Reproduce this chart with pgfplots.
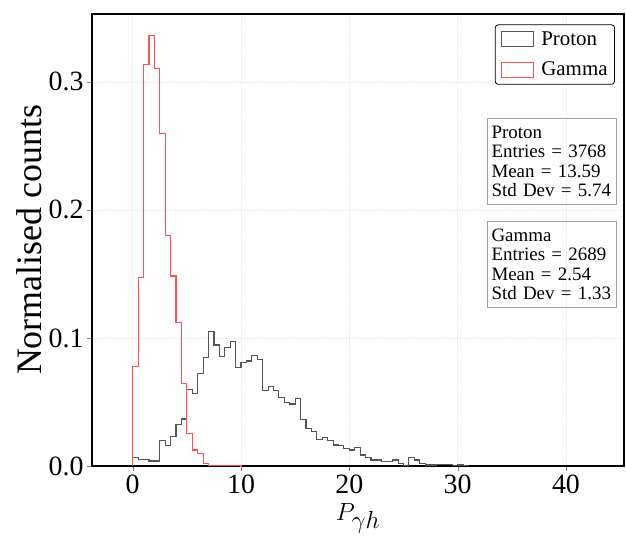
\documentclass[border=0pt]{standalone}
\usepackage{fontspec}
\setmainfont{Liberation Serif}
\usepackage{pgfplots}
\pgfplotsset{compat=1.18}
\definecolor{protc}{HTML}{555555}
\definecolor{gamc}{HTML}{FF5252}
\begin{document}
\begin{tikzpicture}
\path[use as bounding box] (-92bp,-73bp) rectangle (534bp,466bp);
\begin{axis}[
 at={(0,0)}, anchor=south west, scale only axis, width=532bp, height=452bp,
 xmin=-3.76, xmax=45.36, ymin=0, ymax=0.353,
 xtick={0,10,20,30,40}, ytick={0,0.1,0.2,0.3},
 yticklabel style={/pgf/number format/.cd, fixed, fixed zerofill, precision=1},
 /pgf/number format/assume math mode=true,
 tick label style={font=\fontsize{28}{30}\selectfont},
 xtick pos=bottom, ytick pos=left, tick align=outside,
 major tick length=5bp,
 axis line style={line width=1.2bp},
 grid=major, grid style={gray!15, densely dotted, line width=0.6bp},
 xlabel={$P_{\gamma h}$}, ylabel={Normalised counts},
 xlabel style={font=\fontsize{39}{40}\selectfont, yshift=-3bp},
 ylabel style={font=\fontsize{36}{38}\selectfont},
 legend style={at={(0.983,0.977)}, anchor=north east, rounded corners=3bp, draw=black, line width=0.8bp, font=\fontsize{21}{24}\selectfont, row sep=11bp, inner xsep=5bp, inner ysep=5bp},
 legend cell align=left,
 legend image code/.code={\draw[#1, sharp plot, sharp corners] (0bp,-7.5bp) rectangle (32bp,7.5bp); \path (-1bp,0) (37bp,0);},
]
\addplot[protc, line width=1.1bp, const plot] coordinates {
(0,0) (0,0.0065) (0.5,0.0052) (1,0.0052) (1.5,0.0039) (2,0.0039) (2.5,0.0198) (3,0.0161) (3.5,0.0229) (4,0.0326) (4.5,0.0367)
(5,0.0594) (5.5,0.0563) (6,0.0719) (6.5,0.0849) (7,0.1049) (7.5,0.0945) (8,0.0854) (8.5,0.0927) (9,0.0971) (9.5,0.0771)
(10,0.0810) (10.5,0.0820) (11,0.0865) (11.5,0.0833) (12,0.0589) (12.5,0.0620) (13,0.0589) (13.5,0.0534) (14,0.0495) (14.5,0.0484)
(15,0.0529) (15.5,0.0365) (16,0.0294) (16.5,0.0268) (17,0.0208) (17.5,0.0226) (18,0.0200) (18.5,0.0164) (19,0.0159) (19.5,0.0138)
(20,0.0125) (20.5,0.0143) (21,0.0086) (21.5,0.0068) (22,0.0047) (22.5,0.0047) (23,0.0034) (23.5,0.0034) (24,0.0047) (24.5,0.0021)
(25,0.0005) (25.5,0.0068) (26,0.0047) (26.5,0.0021) (27,0.0008) (27.5,0.0008) (28,0.0013) (28.5,0.0015) (29,0.0015) (29.5,0.0005)
(30,0.0008) (30.5,0.0005) (31,0) (31,0)
};
\addlegendentry{Proton}
\addplot[gamc, line width=1.1bp, const plot] coordinates {
(0,0) (0,0.0776) (0.5,0.1471) (1,0.3138) (1.5,0.3362) (2,0.3102) (2.5,0.2594) (3,0.1797) (3.5,0.1484) (4,0.1123) (4.5,0.0641)
(5,0.0255) (5.5,0.0125) (6,0.0099) (6.5,0.0021) (7,0.0004) (7.5,0.0004) (8,0.0003) (9,0.0003) (10,0) (10,0)
};
\addlegendentry{Gamma}
\end{axis}
\node[draw=gray!75, line width=1bp, anchor=north west, align=left, inner sep=4bp, text width=121bp, minimum height=86bp, font=\fontsize{19}{19.5}\selectfont] at (395bp,348bp) {Proton\\Entries = 3768\\Mean = 13.59\\Std Dev = 5.74};
\node[draw=gray!75, line width=1bp, anchor=north west, align=left, inner sep=4bp, text width=121bp, minimum height=86bp, font=\fontsize{19}{19.5}\selectfont] at (395bp,245bp) {Gamma\\Entries = 2689\\Mean = 2.54\\Std Dev = 1.33};
\end{tikzpicture}
\end{document}
